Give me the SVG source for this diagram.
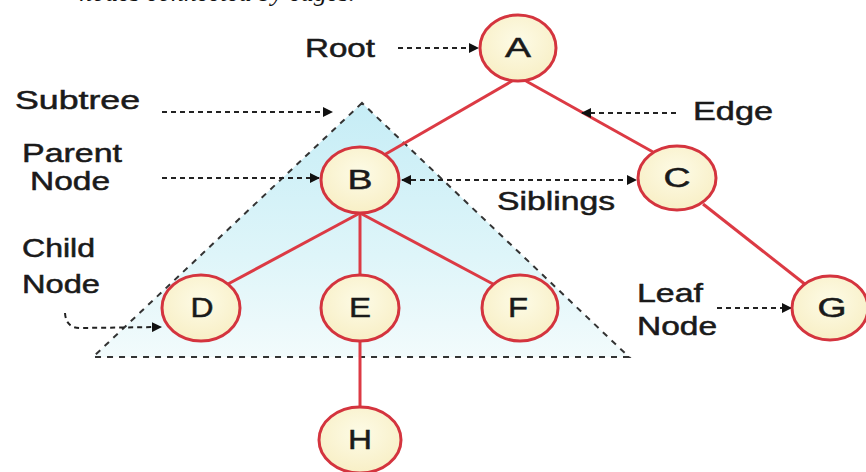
<svg xmlns="http://www.w3.org/2000/svg" width="866" height="472" viewBox="0 0 866 472">
<defs>
<linearGradient id="tri" x1="0" y1="0" x2="0" y2="1">
<stop offset="0" stop-color="#c6edf6"/>
<stop offset="0.6" stop-color="#def5f9"/>
<stop offset="1" stop-color="#f2fbfc"/>
</linearGradient>
<radialGradient id="nodefill" cx="0.5" cy="0.4" r="0.6">
<stop offset="0" stop-color="#fdfbe6"/>
<stop offset="1" stop-color="#f8efc6"/>
</radialGradient>
<marker id="ah" viewBox="0 0 10 10" refX="9" refY="5" markerWidth="10" markerHeight="10" markerUnits="userSpaceOnUse" orient="auto-start-reverse">
<path d="M0,0 L10,5 L0,10 Z" fill="#111"/>
</marker>
<style>
.lbl{font-family:"Liberation Sans",Arial,sans-serif;font-size:25px;fill:#1a1a1a;stroke:#1a1a1a;stroke-width:0.5}
.nl{font-family:"Liberation Sans",Arial,sans-serif;font-size:27px;fill:#1a1a1a;stroke:#1a1a1a;stroke-width:0.5;text-anchor:middle}
.node{fill:url(#nodefill);stroke:#d4343e;stroke-width:3}
.edge{stroke:#dc3a44;stroke-width:3;fill:none}
.ptr{stroke:#222;stroke-width:2;stroke-dasharray:5 4;fill:none;marker-end:url(#ah)}
.tri{fill:url(#tri);stroke:#333;stroke-width:2;stroke-dasharray:6 6}
.cap{font-family:"Liberation Serif","Times New Roman",serif;font-style:italic;font-size:26px;fill:#111}
</style>
</defs>
<rect width="866" height="472" fill="#ffffff"/>
<text class="cap" x="355" y="1" text-anchor="end">nodes connected by edges.</text>
<polygon id="subtree" class="tri" points="362,103 93,357 629,357"/>
<g id="connectors">
<line class="edge" x1="512" y1="81" x2="384" y2="155"/>
<line class="edge" x1="526" y1="81" x2="653" y2="152"/>
<line class="edge" x1="360" y1="213" x2="228" y2="284"/>
<line class="edge" x1="360" y1="213" x2="360" y2="275"/>
<line class="edge" x1="360" y1="213" x2="493" y2="284"/>
<line class="edge" x1="360" y1="341" x2="360" y2="407"/>
<line class="edge" x1="703" y1="204" x2="806" y2="285"/>
<line class="ptr" x1="398" y1="48" x2="478" y2="48"/>
<line class="ptr" x1="162" y1="112" x2="332" y2="112"/>
<line class="ptr" x1="162" y1="178" x2="319" y2="178"/>
<path class="ptr" d="M65,313 Q66,328 80,328 L161,327"/>
<line class="ptr" x1="402" y1="180" x2="636" y2="180" marker-start="url(#ah)"/>
<line class="ptr" x1="676" y1="113" x2="582" y2="113"/>
<line class="ptr" x1="717" y1="308" x2="791" y2="308"/>
</g>
<g id="labels">
<text class="lbl" x="305" y="57" textLength="70" lengthAdjust="spacingAndGlyphs">Root</text>
<text class="lbl" x="15" y="109" textLength="125" lengthAdjust="spacingAndGlyphs">Subtree</text>
<text class="lbl" x="22" y="162" textLength="100" lengthAdjust="spacingAndGlyphs">Parent</text>
<text class="lbl" x="30" y="190" textLength="80" lengthAdjust="spacingAndGlyphs">Node</text>
<text class="lbl" x="22" y="257" textLength="73" lengthAdjust="spacingAndGlyphs">Child</text>
<text class="lbl" x="22" y="293" textLength="78" lengthAdjust="spacingAndGlyphs">Node</text>
<text class="lbl" x="497" y="210" textLength="118" lengthAdjust="spacingAndGlyphs">Siblings</text>
<text class="lbl" x="693" y="120" textLength="80" lengthAdjust="spacingAndGlyphs">Edge</text>
<text class="lbl" x="637" y="302" textLength="66" lengthAdjust="spacingAndGlyphs">Leaf</text>
<text class="lbl" x="637" y="335" textLength="80" lengthAdjust="spacingAndGlyphs">Node</text>
</g>
<g id="node-A"><ellipse class="node" cx="518" cy="48" rx="38" ry="33"/><text class="nl" x="518" y="57" textLength="26" lengthAdjust="spacingAndGlyphs">A</text></g>
<g id="node-B"><ellipse class="node" cx="360" cy="180" rx="39" ry="33"/><text class="nl" x="360" y="189" textLength="25" lengthAdjust="spacingAndGlyphs">B</text></g>
<g id="node-C"><ellipse class="node" cx="677" cy="178" rx="39" ry="32"/><text class="nl" x="677" y="187" textLength="27" lengthAdjust="spacingAndGlyphs">C</text></g>
<g id="node-D"><ellipse class="node" cx="201" cy="308" rx="39" ry="33"/><text class="nl" x="202" y="317" textLength="23" lengthAdjust="spacingAndGlyphs">D</text></g>
<g id="node-E"><ellipse class="node" cx="360" cy="308" rx="39" ry="33"/><text class="nl" x="360" y="317" textLength="22" lengthAdjust="spacingAndGlyphs">E</text></g>
<g id="node-F"><ellipse class="node" cx="520" cy="308" rx="38" ry="33"/><text class="nl" x="518" y="317" textLength="20" lengthAdjust="spacingAndGlyphs">F</text></g>
<g id="node-G"><ellipse class="node" cx="830" cy="308" rx="38" ry="32"/><text class="nl" x="832" y="317" textLength="29" lengthAdjust="spacingAndGlyphs">G</text></g>
<g id="node-H"><ellipse class="node" cx="360" cy="440" rx="41" ry="33"/><text class="nl" x="360" y="449" textLength="24" lengthAdjust="spacingAndGlyphs">H</text></g>
</svg>
